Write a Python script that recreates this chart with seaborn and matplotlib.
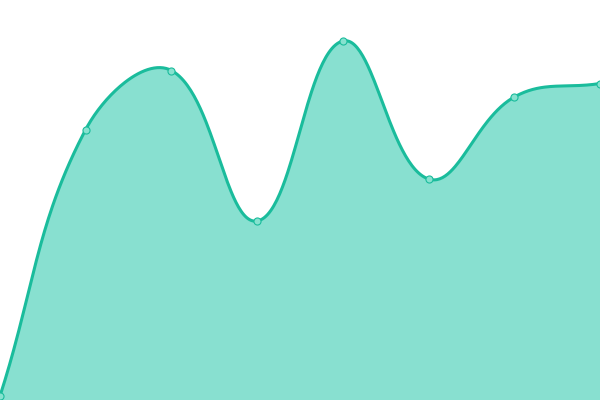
import numpy as np
import pandas as pd
import matplotlib
matplotlib.use("Agg")
import matplotlib.pyplot as plt
import seaborn as sns

categories = ["A", "B", "C", "D", "E", "F", "G", "H"]
values = [4, 270.5, 329.5, 179, 359, 221, 303, 316.5]

LINE = "#1abc9c"
FILL = "#88e0d0"

sns.set_theme(style="white")
fig = plt.figure(figsize=(6, 4), dpi=100)
ax = fig.add_axes([0, 0, 1, 1])
ax.set_xlim(0, len(categories) - 1)
ax.set_ylim(0, 400)
ax.axis("off")

df = pd.DataFrame({"cat": categories, "x": np.arange(len(categories)), "y": values})

# Chart.js-style bezier spline (tension 0.4) computed in pixel space
sx = 600 / (len(categories) - 1)
px = df["x"].to_numpy() * sx
py = np.array(values, dtype=float)
pts = np.column_stack([px, py])
n = len(pts)
t = 0.4
cp_prev = np.zeros_like(pts)
cp_next = np.zeros_like(pts)
for i in range(n):
    prev = pts[i - 1] if i > 0 else pts[i]
    cur = pts[i]
    nxt = pts[i + 1] if i < n - 1 else pts[i]
    d01 = np.hypot(*(cur - prev))
    d12 = np.hypot(*(nxt - cur))
    s = d01 + d12
    fa = t * d01 / s if s else 0
    fb = t * d12 / s if s else 0
    cp_prev[i] = cur - fa * (nxt - prev)
    cp_next[i] = cur + fb * (nxt - prev)
cp_prev[:, 0] = np.clip(cp_prev[:, 0], 0, 600)
cp_next[:, 0] = np.clip(cp_next[:, 0], 0, 600)
cp_prev[:, 1] = np.clip(cp_prev[:, 1], 0, 400)
cp_next[:, 1] = np.clip(cp_next[:, 1], 0, 400)

cx, cy = [], []
u = np.linspace(0, 1, 60)
for i in range(n - 1):
    p0, p1, p2, p3 = pts[i], cp_next[i], cp_prev[i + 1], pts[i + 1]
    b = ((1 - u) ** 3)[:, None] * p0 + (3 * (1 - u) ** 2 * u)[:, None] * p1 \
        + (3 * (1 - u) * u ** 2)[:, None] * p2 + (u ** 3)[:, None] * p3
    cx.extend(b[:, 0] / sx)
    cy.extend(b[:, 1])
cx = np.array(cx)
cy = np.array(cy)

ax.fill_between(cx, 0, cy, color=FILL, linewidth=0, zorder=1)
ax.plot(cx, cy, color=LINE, linewidth=2.2, zorder=2, solid_capstyle="round")
sns.scatterplot(data=df, x="x", y="y", ax=ax, s=26, color="#86e2cf",
                edgecolor=LINE, linewidth=0.8, zorder=3, legend=False, clip_on=False)
ax.set_xlabel("")
ax.set_ylabel("")

fig.savefig("out.png", dpi=100)
